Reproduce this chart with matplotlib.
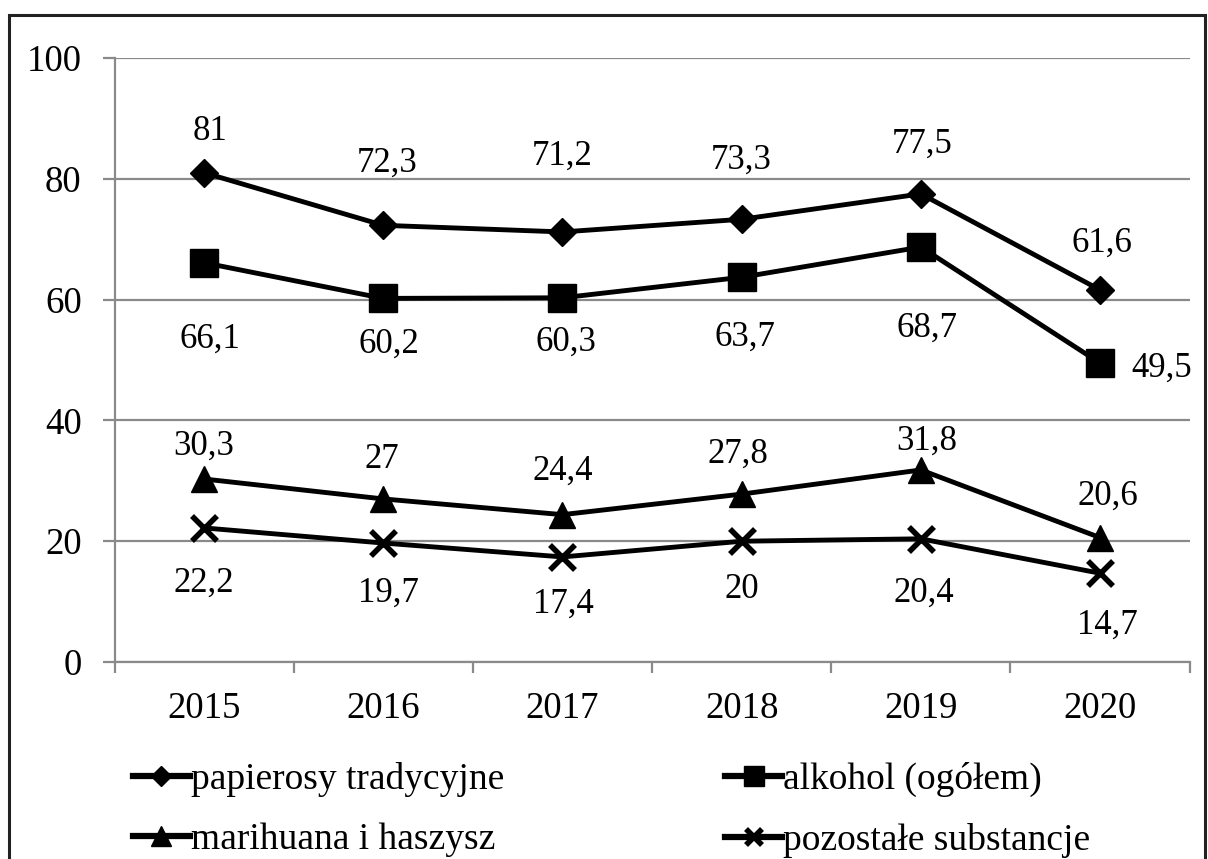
import matplotlib
matplotlib.use("Agg")
import matplotlib.pyplot as plt
from matplotlib.lines import Line2D
from matplotlib.patches import Rectangle

plt.rcParams["font.family"] = ["Liberation Serif", "DejaVu Serif"]

# dane
lata = ["2015", "2016", "2017", "2018", "2019", "2020"]
papierosy = [81, 72.3, 71.2, 73.3, 77.5, 61.6]
alkohol = [66.1, 60.2, 60.3, 63.7, 68.7, 49.5]
marihuana = [30.3, 27, 24.4, 27.8, 31.8, 20.6]
pozostale = [22.2, 19.7, 17.4, 20, 20.4, 14.7]

nazwy = ["papierosy tradycyjne", "alkohol (ogółem)",
         "marihuana i haszysz", "pozostałe substancje"]

# przesunięcia etykiet (piksele: dx, dy linii bazowej)
off_pap = [(6, 33), (4, 54), (0, 67), (0, 51), (1, 41), (2, 38)]
off_alk = [(6, -85), (6, -54), (3, -53), (3, -68), (6, -90), (62, -14)]
off_mar = [(0, 24), (-1, 31), (0, 35), (-4, 31), (6, 20), (8, 33)]
off_poz = [(0, -64), (5, -59), (1, -56), (0, -57), (3, -63), (7, -60)]

FS = 25
FS_OS = 26.5
FS_LEG = 27
SZARY = "#8a8a8a"

fig = plt.figure(figsize=(12.08, 8.59), dpi=100)
ax = fig.add_axes([0.0948, 0.2293, 0.890, 0.7032])

x = list(range(len(lata)))
styl = dict(color="black", lw=3.5, zorder=3, clip_on=False)
ax.plot(x, papierosy, marker="D", ms=14, **styl)
ax.plot(x, alkohol, marker="s", ms=20, **styl)
ax.plot(x, marihuana, marker="^", ms=19, **styl)
ax.plot(x, pozostale, marker="x", ms=18, mew=4, **styl)

def etykiety(vals, offs):
    for i, (v, (dx, dy)) in enumerate(zip(vals, offs)):
        ax.annotate(f"{v:g}".replace(".", ","), (i, v), xytext=(dx, dy),
                    textcoords="offset pixels", ha="center", va="baseline",
                    fontsize=FS)

etykiety(papierosy, off_pap)
etykiety(alkohol, off_alk)
etykiety(marihuana, off_mar)
etykiety(pozostale, off_poz)

ax.set_xlim(-0.5, 5.5)
ax.set_ylim(0, 100)
ax.set_yticks([0, 20, 40, 60, 80, 100])
ax.yaxis.grid(True, color=SZARY, lw=1.6)
ax.set_axisbelow(True)

# podziałki osi X na granicach kategorii, podpisy pośrodku
ax.set_xticks([i - 0.5 for i in range(len(lata) + 1)])
ax.set_xticklabels([])
ax.set_xticks(x, minor=True)
ax.set_xticklabels(lata, minor=True)
ax.tick_params(axis="x", which="major", direction="out", length=8,
               width=1.6, color=SZARY)
ax.tick_params(axis="x", which="minor", length=0, pad=21, labelsize=FS_OS)
ax.tick_params(axis="y", direction="out", length=8.6, width=1.6,
               color=SZARY, pad=15, labelsize=FS_OS)

for s in ["top", "right"]:
    ax.spines[s].set_visible(False)
for s in ["left", "bottom"]:
    ax.spines[s].set_color(SZARY)
    ax.spines[s].set_linewidth(1.6)

# legenda z mniejszymi znacznikami
leg_styl = dict(color="black", lw=4.5)
h_pap = Line2D([], [], marker="D", ms=10, **leg_styl)
h_alk = Line2D([], [], marker="s", ms=15, **leg_styl)
h_mar = Line2D([], [], marker="^", ms=14, **leg_styl)
h_poz = Line2D([], [], marker="x", ms=12, mew=4, **leg_styl)

fig.legend([h_pap, h_mar, h_alk, h_poz], [nazwy[0], nazwy[2], nazwy[1], nazwy[3]],
           ncol=2, loc="upper left", bbox_to_anchor=(0.110, 0.113),
           frameon=False, fontsize=FS_LEG, handlelength=1.52, handletextpad=0.02,
           columnspacing=5.9, labelspacing=0.69, borderpad=0, borderaxespad=0)

# ramka wokół wykresu
fig.patches.append(Rectangle((9 / 1208, -0.05), 1196 / 1208, 1.05 - 15 / 859,
                             transform=fig.transFigure, fill=False,
                             ec="#222222", lw=2.2))

fig.savefig("out.png", dpi=100)
